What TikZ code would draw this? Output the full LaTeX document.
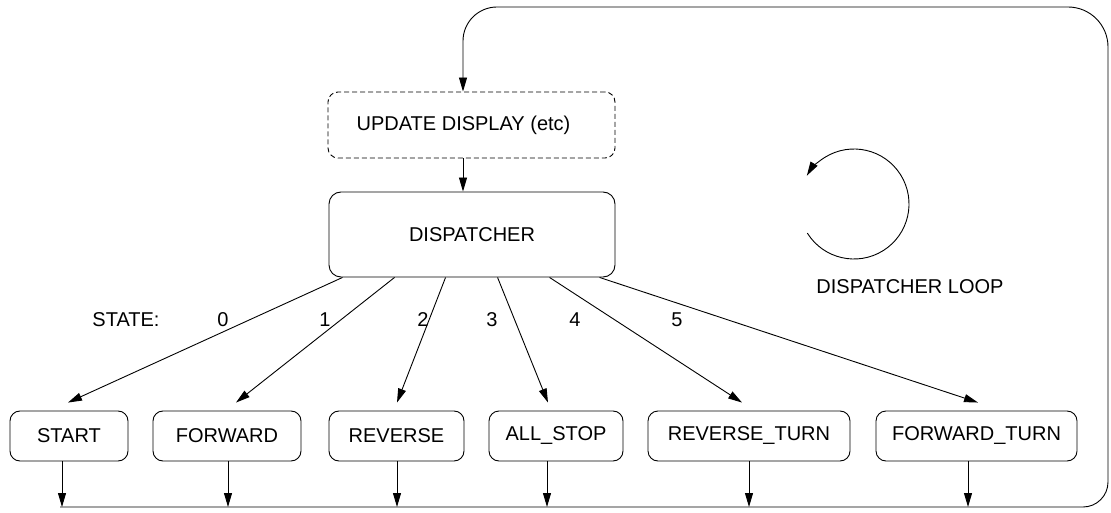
\documentclass[tikz,border=0pt]{standalone}
\usepackage{fontspec}
\setmainfont{Liberation Sans}
\usetikzlibrary{arrows.meta}
\begin{document}
\begin{tikzpicture}[x=1pt,y=1pt,line width=0.9pt,
  every node/.style={font=\fontsize{20pt}{24pt}\selectfont},
  box/.style={draw,rounded corners=10pt,inner sep=0pt,minimum height=50pt},
  dbox/.style={draw,dash pattern=on 5pt off 3pt,rounded corners=10pt,inner sep=0pt},
  arr/.style={-{Triangle[length=14pt,width=8pt]}},
  lbl/.style={inner sep=0pt}]
\useasboundingbox (0,0) rectangle (1111,512);
% main boxes
\node[dbox,minimum width=287pt,minimum height=66pt] (upd) at (471.5,387) {\hspace*{-16pt}UPDATE DISPLAY (etc)};
\node[box,minimum width=286pt,minimum height=85pt,rounded corners=12pt] (disp) at (472,277.5) {DISPATCHER};
% state boxes
\node[box,minimum width=118pt] (start) at (69,76) {START};
\node[box,minimum width=148pt] (fwd) at (227,76) {FORWARD};
\node[box,minimum width=135pt] (rev) at (396.5,76) {REVERSE};
\node[box,minimum width=134pt] (allstop) at (556,76) {ALL\_STOP};
\node[box,minimum width=202pt] (revturn) at (749,76) {REVERSE\_TURN};
\node[box,minimum width=201pt] (fwdturn) at (976.5,76) {FORWARD\_TURN};
% labels
\node[lbl] (st) at (126,192) {STATE:};
\node[lbl] (l0) at (223,192) {0};
\node[lbl] (l1) at (325,192) {1};
\node[lbl] (l2) at (423,192) {2};
\node[lbl] (l3) at (492,192) {3};
\node[lbl] (l4) at (575,192) {4};
\node[lbl] (l5) at (677,192) {5};
\node[lbl] (loopl) at (910,225) {DISPATCHER LOOP};
% dispatcher loop symbol
\coordinate (cc) at (854,308);
\draw[arr] (cc) ++(212:55) arc[start angle=212,end angle=509,radius=55];
% upd -> dispatcher
\draw[arr] ([xshift=-8.5pt]upd.south) -- ([xshift=-9pt]disp.north);
% dispatcher -> states
\draw[arr] ([xshift=14pt]disp.south west) -- ([shift={(-1pt,8pt)}]start.north);
\draw[arr] ([xshift=66pt]disp.south west) -- ([shift={(9pt,8pt)}]fwd.north);
\draw[arr] ([xshift=117pt]disp.south west) -- ([shift={(0.5pt,8pt)}]rev.north);
\draw[arr] ([xshift=169pt]disp.south west) -- ([shift={(-8pt,8pt)}]allstop.north);
\draw[arr] ([xshift=221pt]disp.south west) -- ([shift={(-7pt,8pt)}]revturn.north);
\draw[arr] ([xshift=271pt]disp.south west) -- ([shift={(1.5pt,8pt)}]fwdturn.north);
% states -> bottom line
\coordinate (bl) at (60,5);
\draw[arr] ([xshift=-7pt]start.south) -- ([xshift=-7pt]start.south |- bl);
\draw[arr] ([xshift=1pt]fwd.south) -- ([xshift=1pt]fwd.south |- bl);
\draw[arr] ([xshift=0.5pt]rev.south) -- ([xshift=0.5pt]rev.south |- bl);
\draw[arr] ([xshift=-9pt]allstop.south) -- ([xshift=-9pt]allstop.south |- bl);
\draw[arr] (revturn.south) -- (revturn.south |- bl);
\draw[arr] ([xshift=-8.5pt]fwdturn.south) -- ([xshift=-8.5pt]fwdturn.south |- bl);
% return loop
\draw[arr] (bl) -- (1083,5) arc[start angle=-90,end angle=0,radius=25]
  -- (1108,465) arc[start angle=0,end angle=90,radius=40]
  -- (497,505) arc[start angle=90,end angle=180,radius=34]
  -- ([xshift=-8.5pt]upd.north);
\end{tikzpicture}
\end{document}
